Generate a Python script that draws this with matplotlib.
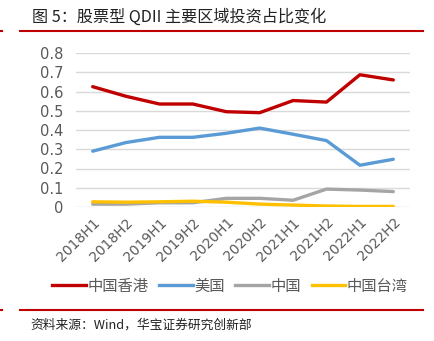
import matplotlib
matplotlib.use('Agg')
import matplotlib.pyplot as plt
from matplotlib.lines import Line2D

plt.rcParams['font.family'] = ['Noto Sans CJK SC', 'DejaVu Sans']

# Half-year periods and regional weights of equity QDII funds
periods = ['2018H1', '2018H2', '2019H1', '2019H2', '2020H1',
           '2020H2', '2021H1', '2021H2', '2022H1', '2022H2']
hongkong = [0.625, 0.575, 0.535, 0.535, 0.495, 0.49, 0.553, 0.545, 0.687, 0.66]
usa = [0.29, 0.335, 0.362, 0.362, 0.383, 0.41, 0.378, 0.345, 0.217, 0.248]
china = [0.015, 0.015, 0.022, 0.022, 0.045, 0.045, 0.035, 0.093, 0.088, 0.08]
taiwan = [0.027, 0.025, 0.027, 0.03, 0.025, 0.015, 0.01, 0.005, 0.003, 0.003]

series_names = ['中国香港', '美国', '中国', '中国台湾']
colors = ['#C00000', '#5B9BD5', '#A5A5A5', '#FFC000']
yticks = [0, 0.1, 0.2, 0.3, 0.4, 0.5, 0.6, 0.7, 0.8]

W, H = 435, 341
fig = plt.figure(figsize=(W / 100, H / 100), dpi=100)

ax = fig.add_axes([76 / W, 1 - 207 / H, (410 - 76) / W, (207 - 53) / H])
x = range(len(periods))
for vals, c in zip([hongkong, usa, china, taiwan], colors):
    ax.plot(x, vals, color=c, lw=2.4, solid_capstyle='round')

ax.set_xlim(-0.5, len(periods) - 0.5)
ax.set_ylim(0, 0.8)
ax.set_yticks(yticks)
ax.set_yticklabels(['0' if v == 0 else f'{v:.1f}' for v in yticks],
                   family='DejaVu Sans', fontsize=10.5)
ax.set_xticks(list(x))
ax.set_xticklabels(periods, rotation=45, ha='right', rotation_mode='anchor',
                   family='DejaVu Sans', fontsize=10)
ax.tick_params(axis='both', length=0, colors='#595959')
ax.tick_params(axis='y', pad=9)
ax.tick_params(axis='x', pad=6)
ax.grid(axis='y', color='#D9D9D9', lw=1)
ax.set_axisbelow(True)
for s in ax.spines.values():
    s.set_visible(False)

# legend along the bottom
handles = [Line2D([0], [0], color=c, lw=2.4) for c in colors]
fig.legend(handles, series_names, loc='center', bbox_to_anchor=(230 / W, 1 - 286 / H),
           ncol=4, frameon=False, fontsize=11, handlelength=2.2,
           handletextpad=0.1, columnspacing=0.7, labelcolor='#595959')

# header and footer
fig.text(32 / W, 1 - 17 / H, '图 5：股票型 QDII 主要区域投资占比变化', fontsize=11.6,
         va='center', ha='left', color='#222222')
fig.add_artist(Line2D([20 / W, 423 / W], [1 - 31 / H] * 2, color='#C00000', lw=1.5))
fig.add_artist(Line2D([0, 2 / W], [1 - 31 / H] * 2, color='#C00000', lw=1.5))
fig.add_artist(Line2D([20 / W, 423 / W], [1 - 310 / H] * 2, color='#C00000', lw=1.5))
fig.add_artist(Line2D([0, 2 / W], [1 - 310 / H] * 2, color='#C00000', lw=1.5))
fig.text(30 / W, 1 - 325 / H, '资料来源：Wind，华宝证券研究创新部', fontsize=9.2,
         va='center', ha='left', color='#222222')

fig.savefig('out.png', dpi=100)
